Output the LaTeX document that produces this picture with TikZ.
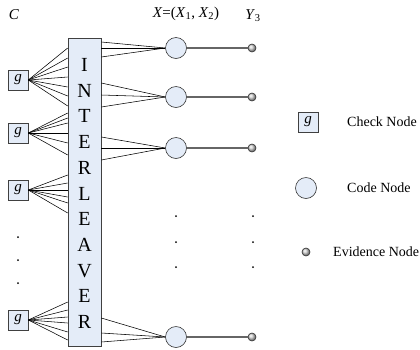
\documentclass[tikz,border=0pt]{standalone}
\usepackage{fontspec}
\setmainfont{Liberation Serif}
\definecolor{paleblue}{RGB}{228,236,248}
\begin{document}
\begin{tikzpicture}[x=1pt,y=-1pt,
  chk/.style={draw=black!75, fill=paleblue, minimum width=20pt, minimum height=20pt, inner sep=0pt, line width=0.6pt, font=\fontsize{15}{15}\selectfont\itshape},
  codenode/.style={circle, draw=black!80, fill=paleblue, minimum size=21pt, inner sep=0pt, line width=0.6pt},
  evid/.style={circle, draw=black!80, shading=ball, ball color=gray!35, minimum size=8pt, inner sep=0pt, line width=0.6pt},
  edge/.style={line width=0.55pt, black},
  evline/.style={line width=1.1pt, black!60},
  dotn/.style={circle, fill=black, minimum size=2pt, inner sep=0pt},
  lbl/.style={font=\fontsize{15}{15}\selectfont, inner sep=0pt},
  leg/.style={font=\fontsize{14}{14}\selectfont, inner sep=0pt, anchor=west},
  letter/.style={font=\fontsize{20}{20}\selectfont, inner sep=0pt}
]
\useasboundingbox (0,0) rectangle (420,349);
% interleaver
\node[draw=black!75, fill=paleblue, line width=0.6pt, minimum width=33pt, minimum height=308pt, inner sep=0pt] (il) at (84.5,192) {};
\foreach \L [count=\i from 0] in {I,N,T,E,R,L,E,A,V,E,R}
  \node[letter] (let\i) at (84.5,{65+25.7*\i}) {\L};
% check nodes
\node[chk] (g1) at (18,80) {g};
\node[chk] (g2) at (18,133) {g};
\node[chk] (g3) at (18,190) {g};
\node[chk] (g4) at (18,320) {g};
% code nodes
\node[codenode] (c1) at (176,48) {};
\node[codenode] (c2) at (176,97) {};
\node[codenode] (c3) at (176,148) {};
\node[codenode] (c4) at (176,337) {};
% evidence nodes
\node[evid] (e1) at (252,48) {};
\node[evid] (e2) at (252,97) {};
\node[evid] (e3) at (252,148) {};
\node[evid] (e4) at (252,337) {};
% edges check -> interleaver
\foreach \y in {48,58,67,77,87,96,106} \draw[edge] (g1.east) -- (il.west |- 0,\y);
\foreach \y in {113,118,123,133,143,155} \draw[edge] (g2.east) -- (il.west |- 0,\y);
\foreach \y in {175,183,190,197,203,213} \draw[edge] (g3.east) -- (il.west |- 0,\y);
\foreach \y in {302,310,317,323,332,340} \draw[edge] (g4.east) -- (il.west |- 0,\y);
% edges interleaver -> code
\foreach \y in {42,48,57} \draw[edge] (il.east |- 0,\y) -- (c1.west);
\foreach \y in {83,95,107} \draw[edge] (il.east |- 0,\y) -- (c2.west);
\foreach \y in {137,148,160} \draw[edge] (il.east |- 0,\y) -- (c3.west);
\foreach \y in {318,333,342} \draw[edge] (il.east |- 0,\y) -- (c4.west);
% code -> evidence
\foreach \k in {1,2,3,4} \draw[evline] (c\k) -- (e\k);
% dots
\foreach \y [count=\j] in {237,260,283} \node[dotn] (dl\j) at (18,\y) {};
\foreach \y [count=\j] in {216,242,267} {
  \node[dotn] (dm\j) at (176,\y) {};
  \node[dotn] (dr\j) at (253,\y) {};
}
% top labels
\node[lbl] (lc) at (14,15) {\textit{C}};
\node[lbl] (lx) at (186,14) {\textit{X}=(\textit{X}\textsubscript{1}, \textit{X}\textsubscript{2})};
\node[lbl] (ly) at (253,16) {\textit{Y}\textsubscript{3}};
% legend
\node[chk] (lg) at (308,122) {g};
\node[leg] (lgt) at (347,122) {Check Node};
\node[codenode] (lcn) at (306,188) {};
\node[leg] (lcnt) at (347,188) {Code Node};
\node[evid] (len) at (306,252) {};
\node[leg] (lent) at (333,252) {Evidence Node};
\end{tikzpicture}
\end{document}
